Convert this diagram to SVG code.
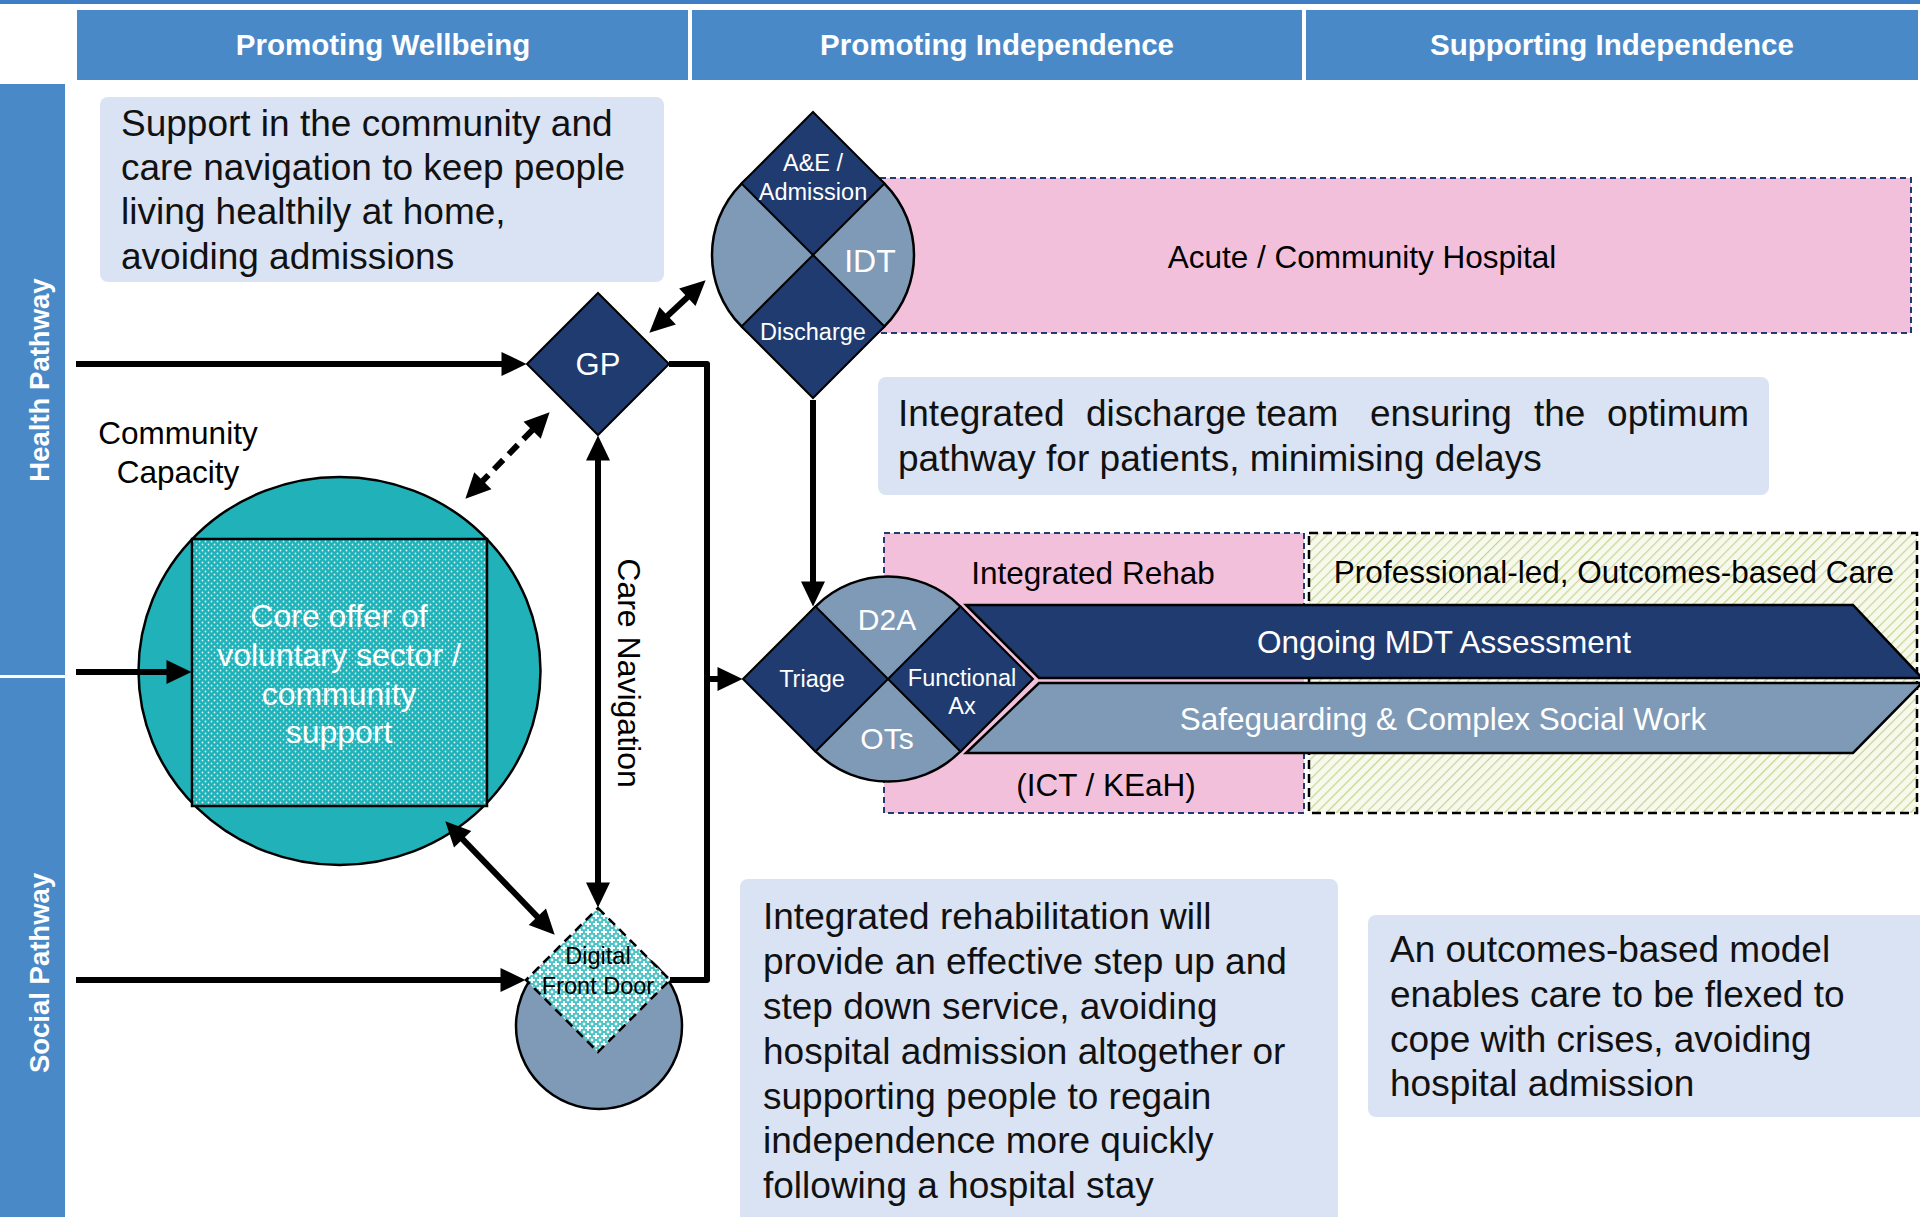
<svg xmlns="http://www.w3.org/2000/svg" width="1920" height="1217" viewBox="0 0 1920 1217">
<style>
text{font-family:"Liberation Sans",Arial,sans-serif;}
.hdr{fill:#4A89C8;}
.hdrt{fill:#fff;font-weight:bold;font-size:29.5px;text-anchor:middle;}
.side{fill:#fff;font-weight:bold;font-size:27.5px;text-anchor:middle;}
.box{fill:#DAE3F3;}
.bt{font-size:37px;fill:#111;}
.navy{fill:#1F3B70;stroke:#000;stroke-width:2;}
.gray{fill:#7F9AB6;stroke:#000;stroke-width:2.5;}
.wt{fill:#fff;text-anchor:middle;}
.kt{fill:#000;text-anchor:middle;}
.ln{stroke:#000;stroke-width:6;fill:none;}
.arr{marker-end:url(#ah);}
.arr2{marker-start:url(#ah);marker-end:url(#ah);}
</style>
<defs>
<marker id="ah" markerUnits="userSpaceOnUse" markerWidth="26" markerHeight="24" refX="0.5" refY="12" orient="auto-start-reverse" overflow="visible">
<path d="M0,0 L25,12 L0,24 Z" fill="#000"/>
</marker>
<pattern id="dots" patternUnits="userSpaceOnUse" width="6" height="6">
<rect width="6" height="6" fill="#20B2B8"/>
<circle cx="1.5" cy="1.5" r="0.9" fill="#fff" fill-opacity="0.85"/>
<circle cx="4.5" cy="4.5" r="0.9" fill="#fff" fill-opacity="0.85"/>
</pattern>
<pattern id="check" patternUnits="userSpaceOnUse" width="8" height="8">
<rect width="8" height="8" fill="#4CC3C4"/>
<path d="M4,1 L4,7 M1,4 L7,4" stroke="#fff" stroke-width="1.8"/>
<circle cx="0" cy="0" r="1.4" fill="#fff"/>
<circle cx="8" cy="0" r="1.4" fill="#fff"/>
<circle cx="0" cy="8" r="1.4" fill="#fff"/>
<circle cx="8" cy="8" r="1.4" fill="#fff"/>
</pattern>
<pattern id="hatch" patternUnits="userSpaceOnUse" width="7" height="7" patternTransform="rotate(45)">
<rect width="7" height="7" fill="#F7F9EC"/>
<line x1="0" y1="0" x2="0" y2="7" stroke="#C6D596" stroke-width="2.4"/>
</pattern>
</defs>

<rect width="1920" height="1217" fill="#fff"/>
<rect x="0" y="0" width="1920" height="4" fill="#3F7DC4"/>

<g id="headers">
<rect class="hdr" x="77" y="10" width="611" height="70"/>
<rect class="hdr" x="692" y="10" width="610" height="70"/>
<rect class="hdr" x="1306" y="10" width="612" height="70"/>
<text class="hdrt" x="383" y="55">Promoting Wellbeing</text>
<text class="hdrt" x="997" y="55">Promoting Independence</text>
<text class="hdrt" x="1612" y="55">Supporting Independence</text>
</g>

<g id="pathways">
<rect class="hdr" x="0" y="84" width="65" height="591"/>
<rect class="hdr" x="0" y="678" width="65" height="539"/>
<text class="side" transform="translate(49,380) rotate(-90)">Health Pathway</text>
<text class="side" transform="translate(49,973) rotate(-90)">Social Pathway</text>
</g>

<g id="box-community">
<rect class="box" x="100" y="97" width="564" height="185" rx="8"/>
<text class="bt" x="121" y="136">Support in the community and</text>
<text class="bt" x="121" y="180">care navigation to keep people</text>
<text class="bt" x="121" y="224">living healthily at home,</text>
<text class="bt" x="121" y="269">avoiding admissions</text>
</g>

<g id="box-discharge">
<rect class="box" x="878" y="377" width="891" height="118" rx="8"/>
<text class="bt" y="426"><tspan x="898">Integrated</tspan><tspan x="1086">discharge</tspan><tspan x="1256">team</tspan><tspan x="1370">ensuring</tspan><tspan x="1534">the</tspan></text>
<text class="bt" x="1749" y="426" text-anchor="end">optimum</text>
<text class="bt" x="898" y="471">pathway for patients, minimising delays</text>
</g>

<g id="box-rehab">
<rect class="box" x="740" y="879" width="598" height="350" rx="8"/>
<text class="bt" x="763" y="929">Integrated rehabilitation will</text>
<text class="bt" x="763" y="974">provide an effective step up and</text>
<text class="bt" x="763" y="1019">step down service, avoiding</text>
<text class="bt" x="763" y="1064">hospital admission altogether or</text>
<text class="bt" x="763" y="1109">supporting people to regain</text>
<text class="bt" x="763" y="1153">independence more quickly</text>
<text class="bt" x="763" y="1198">following a hospital stay</text>
</g>

<g id="box-outcomes">
<rect class="box" x="1368" y="915" width="562" height="202" rx="8"/>
<text class="bt" x="1390" y="962">An outcomes-based model</text>
<text class="bt" x="1390" y="1007">enables care to be flexed to</text>
<text class="bt" x="1390" y="1052">cope with crises, avoiding</text>
<text class="bt" x="1390" y="1096">hospital admission</text>
</g>

<g id="acute-hospital">
<rect x="880" y="178" width="1031" height="155" fill="#F3C0DC" stroke="#1F3B70" stroke-width="2" stroke-dasharray="6 4"/>
<text class="kt" x="1362" y="268" font-size="31.5">Acute / Community Hospital</text>
</g>

<g id="integrated-rehab">
<rect x="884" y="533" width="420" height="280" fill="#F3C0DC" stroke="#1F3B70" stroke-width="2" stroke-dasharray="6 4"/>
<text class="kt" x="1093" y="584" font-size="31.5">Integrated Rehab</text>
<text class="kt" x="1106" y="796" font-size="31.5">(ICT / KEaH)</text>
</g>

<g id="professional-care">
<rect x="1309" y="533" width="608" height="280" fill="url(#hatch)" stroke="#000" stroke-width="2.5" stroke-dasharray="9 5"/>
<text class="kt" x="1614" y="583" font-size="31.5">Professional-led, Outcomes-based Care</text>
</g>

<g id="mdt">
<polygon points="966,605 1853,605 1922,678 1039,678" fill="#1F3B70" stroke="#000" stroke-width="2.5"/>
<text class="wt" x="1444" y="653" font-size="31.5">Ongoing MDT Assessment</text>
</g>

<g id="safeguarding">
<polygon points="1039,683 1922,683 1853,753 966,753" fill="#7F9AB6" stroke="#000" stroke-width="2.5"/>
<text class="wt" x="1443" y="730" font-size="31.5">Safeguarding &amp; Complex Social Work</text>
</g>

<g id="hospital">
<circle class="gray" cx="813" cy="255" r="101"/>
<polygon class="navy" points="813,112 884.5,183.5 813,255 741.5,183.5"/>
<polygon class="navy" points="813,255 884.5,326.5 813,398 741.5,326.5"/>
<text class="wt" x="813" y="171" font-size="23.5">A&amp;E /</text>
<text class="wt" x="813" y="200" font-size="23.5">Admission</text>
<text class="wt" x="870" y="272" font-size="32">IDT</text>
<text class="wt" x="813" y="340" font-size="23.5">Discharge</text>
</g>

<g id="d2a">
<circle class="gray" cx="888" cy="679" r="102.5"/>
<polygon class="navy" points="743,679 815.5,606.5 888,679 815.5,751.5"/>
<polygon class="navy" points="888,679 960.5,606.5 1033,679 960.5,751.5"/>
<text class="wt" x="887" y="630" font-size="30">D2A</text>
<text class="wt" x="887" y="749" font-size="30">OTs</text>
<text class="wt" x="812" y="687" font-size="23.5">Triage</text>
<text class="wt" x="962" y="686" font-size="23.5">Functional</text>
<text class="wt" x="962" y="714" font-size="23.5">Ax</text>
</g>

<g id="gp">
<polygon class="navy" points="527,364 598,293 669,364 598,435"/>
<text class="wt" x="598" y="375" font-size="31">GP</text>
</g>

<g id="community-capacity">
<ellipse cx="339.5" cy="671" rx="201" ry="194" fill="#20B2B8" stroke="#000" stroke-width="2.5"/>
<rect x="192" y="539" width="295" height="267" fill="url(#dots)" stroke="#000" stroke-width="2.5"/>
<text class="wt" x="339" y="627" font-size="32">Core offer of</text>
<text class="wt" x="339" y="666" font-size="32">voluntary sector /</text>
<text class="wt" x="339" y="705" font-size="32">community</text>
<text class="wt" x="339" y="743" font-size="32">support</text>
<text class="kt" x="178" y="444" font-size="31.5">Community</text>
<text class="kt" x="178" y="483" font-size="31.5">Capacity</text>
</g>

<g id="digital-front-door">
<circle class="gray" cx="599" cy="1026" r="83"/>
<polygon points="598,908 670,980 598,1052 526,980" fill="url(#check)" stroke="#000" stroke-width="2.5" stroke-dasharray="9 6"/>
<text class="kt" x="598" y="964" font-size="23.5">Digital</text>
<text class="kt" x="598" y="994" font-size="23.5">Front Door</text>
</g>

<g id="connectors">
<line class="ln arr" x1="76" y1="364" x2="502" y2="364"/>
<line class="ln arr" x1="76" y1="672" x2="167" y2="672"/>
<line class="ln arr" x1="76" y1="980" x2="501" y2="980"/>
<polyline class="ln" points="669,364 707,364 707,980 670,980" stroke-linejoin="round"/>
<line class="ln arr" x1="707" y1="679" x2="718" y2="679"/>
<line class="ln arr" x1="813" y1="400" x2="813" y2="582"/>
<line class="ln arr2" x1="598" y1="460" x2="598" y2="883"/>
<line class="ln arr2" x1="667.3" y1="316" x2="687.7" y2="297"/>
<line class="ln arr2" x1="532.5" y1="429.9" x2="482.5" y2="481.1" stroke-dasharray="13 8"/>
<line class="ln arr2" x1="462.3" y1="838.9" x2="537.7" y2="917.1"/>
<text class="kt" transform="translate(618,673) rotate(90)" font-size="32">Care Navigation</text>
</g>
</svg>
